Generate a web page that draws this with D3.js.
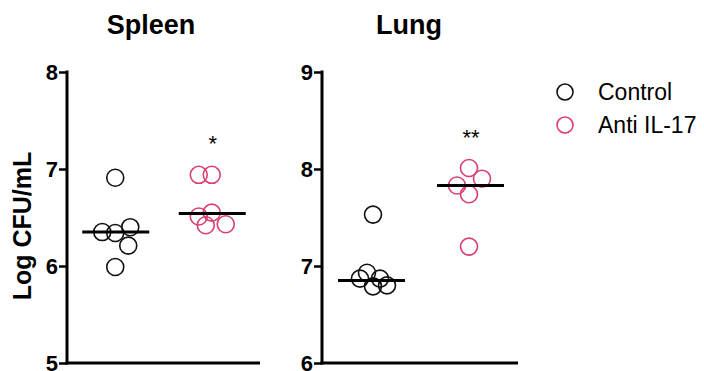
<!DOCTYPE html>
<html><head><meta charset="utf-8">
<script src="https://cdn.jsdelivr.net/npm/d3@7"></script>
<style>body{margin:0;background:#fff}svg{display:block}</style>
</head><body>
<script>
const groups = ["Control", "Anti IL-17"];
const colors = ["#111111", "#d9406f"];
const spleenControl = [6.91, 6.35, 6.34, 6.40, 6.21, 5.99];
const spleenControlJitter = [0, -13, 0, 15, 13, 0];
const spleenAnti = [6.94, 6.94, 6.51, 6.55, 6.42, 6.43];
const spleenAntiJitter = [-13, 0, -13, 0, -6, 14];
const spleenMedians = [6.35, 6.54];
const lungControl = [7.53, 6.93, 6.87, 6.87, 6.79, 6.80];
const lungControlJitter = [2, -4, -11, 9, 2, 16];
const lungAnti = [8.01, 7.90, 7.83, 7.74, 7.20];
const lungAntiJitter = [0, 13, -12, 0, 0];
const lungMedians = [6.85, 7.83];
const spleenTicks = [5, 6, 7, 8];
const lungTicks = [6, 7, 8, 9];
const significance = ["*", "**"];

const W = 704, H = 371;
const FONT = "Liberation Sans, Arial, sans-serif";
const svg = d3.select("body").append("svg").attr("width", W).attr("height", H);

const panels = [
  {title: "Spleen", titleX: 151, x0: 67, x1: 260, ticks: spleenTicks, data: [spleenControl, spleenAnti],
   jit: [spleenControlJitter, spleenAntiJitter], med: spleenMedians, sig: significance[0], sigY: 7.31, medShift: [0, 0]},
  {title: "Lung", titleX: 409, x0: 322, x1: 518, ticks: lungTicks, data: [lungControl, lungAnti],
   jit: [lungControlJitter, lungAntiJitter], med: lungMedians, sig: significance[1], sigY: 8.37, medShift: [0, 1]}
];
const yTop = 72, yBot = 363;
const r = 8.5;

panels.forEach(p => {
  const y = d3.scaleLinear().domain([p.ticks[0], p.ticks[p.ticks.length - 1]]).range([yBot, yTop]);
  const x = d3.scalePoint().domain(groups).range([p.x0, p.x1]).padding(0.5);
  const g = svg.append("g");
  const ax = g.append("g").attr("transform", `translate(${p.x0},0)`)
    .call(d3.axisLeft(y).tickValues(p.ticks).tickFormat(d3.format("d")).tickSize(8).tickSizeOuter(0));
  ax.attr("font-size", null).attr("font-family", null);
  ax.select(".domain").attr("stroke", "#000").attr("stroke-width", 3).attr("d", `M0,${yTop - 1.5}V${yBot + 1.5}`);
  ax.selectAll(".tick line").attr("stroke", "#000").attr("stroke-width", 2.5);
  ax.selectAll(".tick text").attr("x", -9).attr("dy", "0.36em")
    .style("font-family", FONT).style("font-weight", "bold").style("font-size", "22px").attr("fill", "#000");
  g.append("line").attr("x1", p.x0 - 1.5).attr("x2", p.x1).attr("y1", yBot).attr("y2", yBot)
    .attr("stroke", "#000").attr("stroke-width", 3);
  g.append("text").attr("x", p.titleX).attr("y", 34).attr("text-anchor", "middle")
    .style("font-family", FONT).style("font-weight", "bold").style("font-size", "27px")
    .text(p.title);
  groups.forEach((grp, i) => {
    g.selectAll(null).data(p.data[i]).enter().append("circle")
      .attr("cx", (d, k) => x(grp) + p.jit[i][k]).attr("cy", d => y(d)).attr("r", r)
      .attr("fill", "none").attr("stroke", colors[i]).attr("stroke-width", 1.6);
  });
  groups.forEach((grp, i) => {
    g.append("line").attr("x1", x(grp) - 33 + p.medShift[i]).attr("x2", x(grp) + 34 + p.medShift[i])
      .attr("y1", y(p.med[i])).attr("y2", y(p.med[i])).attr("stroke", "#000").attr("stroke-width", 3);
  });
  g.append("text").attr("x", x(groups[1]) + (p.sig.length === 1 ? 1 : 2)).attr("y", y(p.sigY) + 12).attr("text-anchor", "middle")
    .style("font-family", FONT).style("font-size", "22px").text(p.sig);
});

svg.append("text").attr("transform", "translate(31,226) rotate(-90)").attr("text-anchor", "middle")
  .style("font-family", FONT).style("font-weight", "bold").style("font-size", "25px")
  .text("Log CFU/mL");

const leg = svg.append("g");
groups.forEach((grp, i) => {
  leg.append("circle").attr("cx", 565).attr("cy", 92 + i * 33).attr("r", 8)
    .attr("fill", "none").attr("stroke", colors[i]).attr("stroke-width", 1.6);
  leg.append("text").attr("x", 598).attr("y", 100 + i * 33)
    .style("font-family", FONT).style("font-size", "23px").text(grp);
});
</script>
</body></html>
